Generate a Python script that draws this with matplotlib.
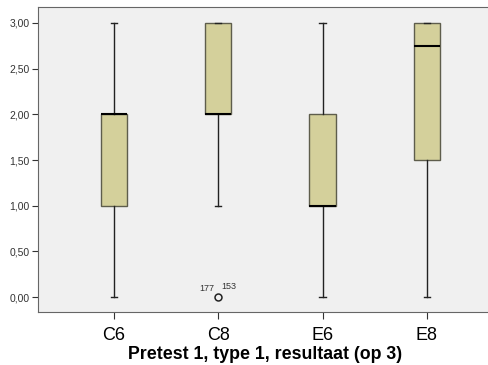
import matplotlib
matplotlib.use('Agg')
import matplotlib.pyplot as plt
from matplotlib.ticker import FuncFormatter

groups = ['C6', 'C8', 'E6', 'E8']
whislo = [0.0, 1.0, 0.0, 0.0]
q1 = [1.0, 2.0, 1.0, 1.5]
med = [2.0, 2.0, 1.0, 2.75]
q3 = [2.0, 3.0, 2.0, 3.0]
whishi = [3.0, 3.0, 3.0, 3.0]
fliers = [[], [0.0], [], []]
flier_ids = ['177', '153']

plt.rcParams['font.family'] = ['Liberation Sans', 'DejaVu Sans']

fig = plt.figure(figsize=(4.89, 3.65), dpi=100)
ax = fig.add_axes([0.078, 0.145, 0.93, 0.836])
ax.set_facecolor('#f0f0f0')

stats = []
for i in range(len(groups)):
    stats.append(dict(label=groups[i], whislo=whislo[i], q1=q1[i], med=med[i],
                      q3=q3[i], whishi=whishi[i], fliers=fliers[i]))

pos = list(range(len(groups)))
ax.bxp(stats, positions=pos, widths=0.25, patch_artist=True,
       boxprops=dict(facecolor='#d4d09b', edgecolor='#5e5d4c', linewidth=1.0),
       medianprops=dict(color='black', linewidth=1.5),
       whiskerprops=dict(color='#222222', linewidth=1.0),
       capprops=dict(color='#222222', linewidth=1.0),
       capwidths=0.06,
       flierprops=dict(marker='o', markersize=5, markerfacecolor='none',
                       markeredgecolor='#222222', markeredgewidth=1.1))

# case numbers next to the outlier
ax.text(pos[1] - 0.04, fliers[1][0] + 0.04, flier_ids[0], fontsize=6.5,
        ha='right', va='bottom', color='#333333')
ax.text(pos[1] + 0.03, fliers[1][0] + 0.07, flier_ids[1], fontsize=6.5,
        ha='left', va='bottom', color='#333333')

ax.set_xlim(-0.725, 3.633)
ax.set_ylim(-0.164, 3.175)
ax.set_yticks([0, 0.5, 1, 1.5, 2, 2.5, 3])
ax.yaxis.set_major_formatter(FuncFormatter(lambda v, p: ('%.2f' % v).replace('.', ',')))
ax.set_xticks(pos)
ax.set_xticklabels(groups)
ax.tick_params(axis='y', labelsize=7.5, length=4, pad=2, color='#333333', labelcolor='#333333')
ax.tick_params(axis='x', labelsize=13, length=5, pad=6, color='#333333')
ax.set_xlabel('Pretest 1, type 1, resultaat (op 3)', fontsize=12.8, fontweight='bold', labelpad=1)

for s in ['top', 'left', 'bottom']:
    ax.spines[s].set_color('#666666')
ax.spines['right'].set_visible(False)

fig.savefig('out.png', dpi=100)
